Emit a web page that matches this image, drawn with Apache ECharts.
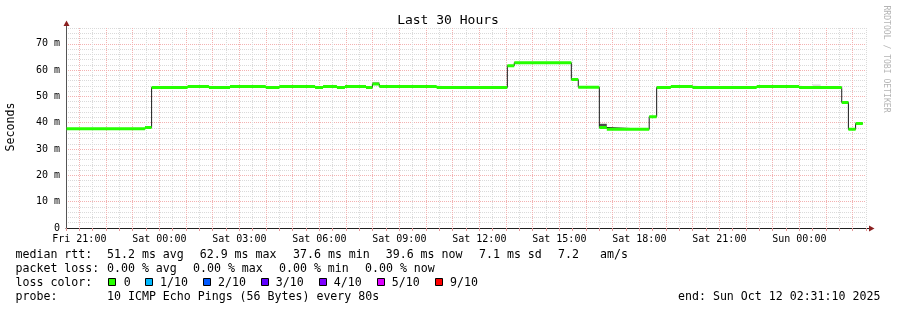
<!DOCTYPE html>
<html><head><meta charset="utf-8">
<script src="https://cdn.jsdelivr.net/npm/echarts@6/dist/echarts.min.js"></script>
<style>html,body{margin:0;padding:0;background:#fff}#c{width:897px;height:310px}</style>
</head><body><div id="c"></div>
<script>
// ---- DATA (time = hours since Fri 00:00) ----
const segStart = [20.52, 23.46, 23.71, 25.06, 25.86, 26.65, 27.99, 28.5, 29.84, 30.14, 30.66, 30.96, 31.75, 31.99, 32.25, 34.4, 37.05, 37.31, 39.45, 39.71, 40.5, 40.78, 42.37, 42.65, 43.18, 44.0, 46.4, 47.99, 49.59, 49.84, 50.11];
const segEnd = 50.38;
const medianMs = [37.7, 38.2, 53.4, 53.8, 53.4, 53.8, 53.4, 53.8, 53.4, 53.8, 53.4, 53.8, 53.4, 54.7, 53.8, 53.4, 61.7, 62.8, 56.4, 53.5, 38.2, 37.5, 42.3, 53.4, 53.8, 53.4, 53.8, 53.4, 47.7, 37.5, 39.7];
const smokeStart = [31.99, 40.5, 48.5];
const smokeEnd = [32.25, 40.78, 48.8];
const smokeLow = [54.7, 38.2, 54.1];
const smokeHigh = [55.5, 39.6, 54.5];
const smokeDensity = [0.35, 0.7, 0.2];
const xLabelHours = [21, 24, 27, 30, 33, 36, 39, 42, 45, 48];
const xLabelText = ['Fri 21:00', 'Sat 00:00', 'Sat 03:00', 'Sat 06:00', 'Sat 09:00', 'Sat 12:00', 'Sat 15:00', 'Sat 18:00', 'Sat 21:00', 'Sun 00:00'];
const yTickValues = [0, 10, 20, 30, 40, 50, 60, 70];
const yTickText = ['0', '10 m', '20 m', '30 m', '40 m', '50 m', '60 m', '70 m'];
const rowLabels = ['median rtt:', 'packet loss:', 'loss color:', 'probe:'];
const rttStats = ['51.2 ms avg', '62.9 ms max', '37.6 ms min', '39.6 ms now', '7.1 ms sd', '7.2', 'am/s'];
const lossStats = ['0.00 % avg', '0.00 % max', '0.00 % min', '0.00 % now'];
const lossLegend = ['0', '1/10', '2/10', '3/10', '4/10', '5/10', '9/10'];
const lossColors = ['#26ff00', '#00b8ff', '#0059ff', '#5e00ff', '#7e00ff', '#dd00ff', '#ff0000'];
const probeText = '10 ICMP Echo Pings (56 Bytes) every 80s';
const endText = 'end: Sun Oct 12 02:31:10 2025';
const titleText = 'Last 30 Hours';
const yName = 'Seconds';
const sideText = 'RRDTOOL / TOBI OETIKER';

// ---- LAYOUT ----
const FONT = 'DejaVu Sans Mono';
const MAJOR = '#f3b2b2';
const MINOR = '#dadada';
const rowY = [255, 269, 283, 297];
const rttX = [107, 199.7, 293, 385.7, 479, 558, 600];
const lossX = [107, 193, 279, 365];
const boxX = [108.5, 145.5, 203.5, 261.5, 319.5, 377.5, 435.5];
const boxLabelX = [123.7, 160, 218, 275.7, 333.7, 391.7, 450];

// ---- build series data ----
const stepData = segStart.map((t, i) => [t, medianMs[i]]);
stepData.push([segEnd, medianMs[medianMs.length - 1]]);
const greenData = [];
segStart.forEach((t, i) => {
  const t1 = i + 1 < segStart.length ? segStart[i + 1] : segEnd;
  greenData.push([t, medianMs[i]], [t1, medianMs[i]], [t1, '-']);
});
const smokeData = smokeStart.map((t, i) => [t, smokeEnd[i], smokeLow[i], smokeHigh[i], smokeDensity[i]]);

function xLabel(v) {
  for (let i = 0; i < xLabelHours.length; i++) if (Math.abs(v - xLabelHours[i]) < 1e-6) return xLabelText[i];
  return '';
}
function yLabel(v) {
  for (let i = 0; i < yTickValues.length; i++) if (Math.abs(v - yTickValues[i]) < 1e-6) return yTickText[i];
  return '';
}

const txt = (x, y, s, extra) => Object.assign({
  type: 'text', x: x, y: y, silent: true,
  style: Object.assign({ text: s, font: '11.6px "' + FONT + '"', fill: '#000', textVerticalAlign: 'middle', textAlign: 'left' }, extra || {})
});

const graphics = [];
graphics.push(txt(448, 20.5, titleText, { font: '13px "' + FONT + '"', textAlign: 'center' }));
graphics.push({ type: 'text', x: 11, y: 127, rotation: Math.PI / 2, silent: true,
  style: { text: yName, font: '11.6px "' + FONT + '"', fill: '#000', textAlign: 'center', textVerticalAlign: 'middle' } });
graphics.push({ type: 'text', x: 886, y: 59, rotation: -Math.PI / 2, silent: true,
  style: { text: sideText, font: '8.1px "' + FONT + '"', fill: '#b4b4b4', textAlign: 'center', textVerticalAlign: 'middle' } });
rowLabels.forEach((s, i) => graphics.push(txt(15.5, rowY[i], s)));
rttStats.forEach((s, i) => graphics.push(txt(rttX[i], rowY[0], s)));
lossStats.forEach((s, i) => graphics.push(txt(lossX[i], rowY[1], s)));
lossLegend.forEach((s, i) => {
  graphics.push({ type: 'rect', silent: true, shape: { x: boxX[i], y: 278.5, width: 7, height: 7 },
    style: { fill: lossColors[i], stroke: '#000', lineWidth: 1 } });
  graphics.push(txt(boxLabelX[i], rowY[2], s));
});
graphics.push(txt(107, rowY[3], probeText));
graphics.push(txt(678, rowY[3], endText));
// axis extensions and arrows
graphics.push({ type: 'line', silent: true, shape: { x1: 66.5, y1: 28, x2: 66.5, y2: 23 }, style: { stroke: '#555', lineWidth: 1 } });
graphics.push({ type: 'polygon', silent: true, shape: { points: [[63.5, 26], [69.5, 26], [66.5, 20.5]] }, style: { fill: '#8b2020' } });
graphics.push({ type: 'line', silent: true, shape: { x1: 866, y1: 228.5, x2: 870, y2: 228.5 }, style: { stroke: '#1f1f1f', lineWidth: 1 } });
graphics.push({ type: 'polygon', silent: true, shape: { points: [[869, 225.5], [869, 231.5], [874.5, 228.5]] }, style: { fill: '#8b2020' } });

const chart = echarts.init(document.getElementById('c'), null, { renderer: 'canvas' });
chart.setOption({
  animation: false,
  backgroundColor: '#fff',
  grid: { left: 66, top: 28, width: 800, height: 200, containLabel: false },
  xAxis: {
    type: 'value', min: 20.5, max: 50.5, interval: 0.5,
    axisLine: { show: true, onZero: false, lineStyle: { color: '#1f1f1f', width: 1 } },
    axisTick: { show: true, length: 3, lineStyle: { color: '#e49a9a' } },
    axisLabel: { formatter: xLabel, fontFamily: FONT, fontSize: 10, color: '#000', margin: 6 },
    splitLine: { show: true, lineStyle: { color: [MINOR, MAJOR], type: [1, 1], width: 1 } }
  },
  yAxis: {
    type: 'value', min: 0, max: 76, interval: 10,
    axisLine: { show: true, onZero: false, lineStyle: { color: '#555', width: 1 } },
    axisTick: { show: false },
    axisLabel: { formatter: yLabel, fontFamily: FONT, fontSize: 10, color: '#000', margin: 6 },
    splitLine: { show: true, lineStyle: { color: [MAJOR, MAJOR, MAJOR, MAJOR, MAJOR, MAJOR, MAJOR, MAJOR, MINOR], type: [1, 1], width: 1 } },
    minorTick: { show: false, splitNumber: 5 },
    minorSplitLine: { show: true, lineStyle: { color: MINOR, type: [1, 1], width: 1 } }
  },
  series: [
    {
      type: 'custom', z: 2, silent: true,
      encode: { x: [0, 1], y: [2, 3] },
      data: smokeData,
      renderItem: function (params, api) {
        const p0 = api.coord([api.value(0), api.value(3)]);
        const p1 = api.coord([api.value(1), api.value(2)]);
        const g = Math.round(255 * (1 - api.value(4)));
        return { type: 'rect', shape: { x: p0[0], y: p0[1], width: p1[0] - p0[0], height: p1[1] - p0[1] },
          style: { fill: 'rgb(' + g + ',' + g + ',' + g + ')' } };
      }
    },
    {
      type: 'line', z: 3, silent: true, step: 'end', symbol: 'none',
      data: stepData,
      lineStyle: { color: '#1a1a1a', width: 1 }
    },
    {
      type: 'line', z: 4, silent: true, symbol: 'none', connectNulls: false,
      data: greenData,
      lineStyle: { color: '#26ff00', width: 3, cap: 'butt' }
    }
  ],
  graphic: graphics
});
</script>
</body></html>
